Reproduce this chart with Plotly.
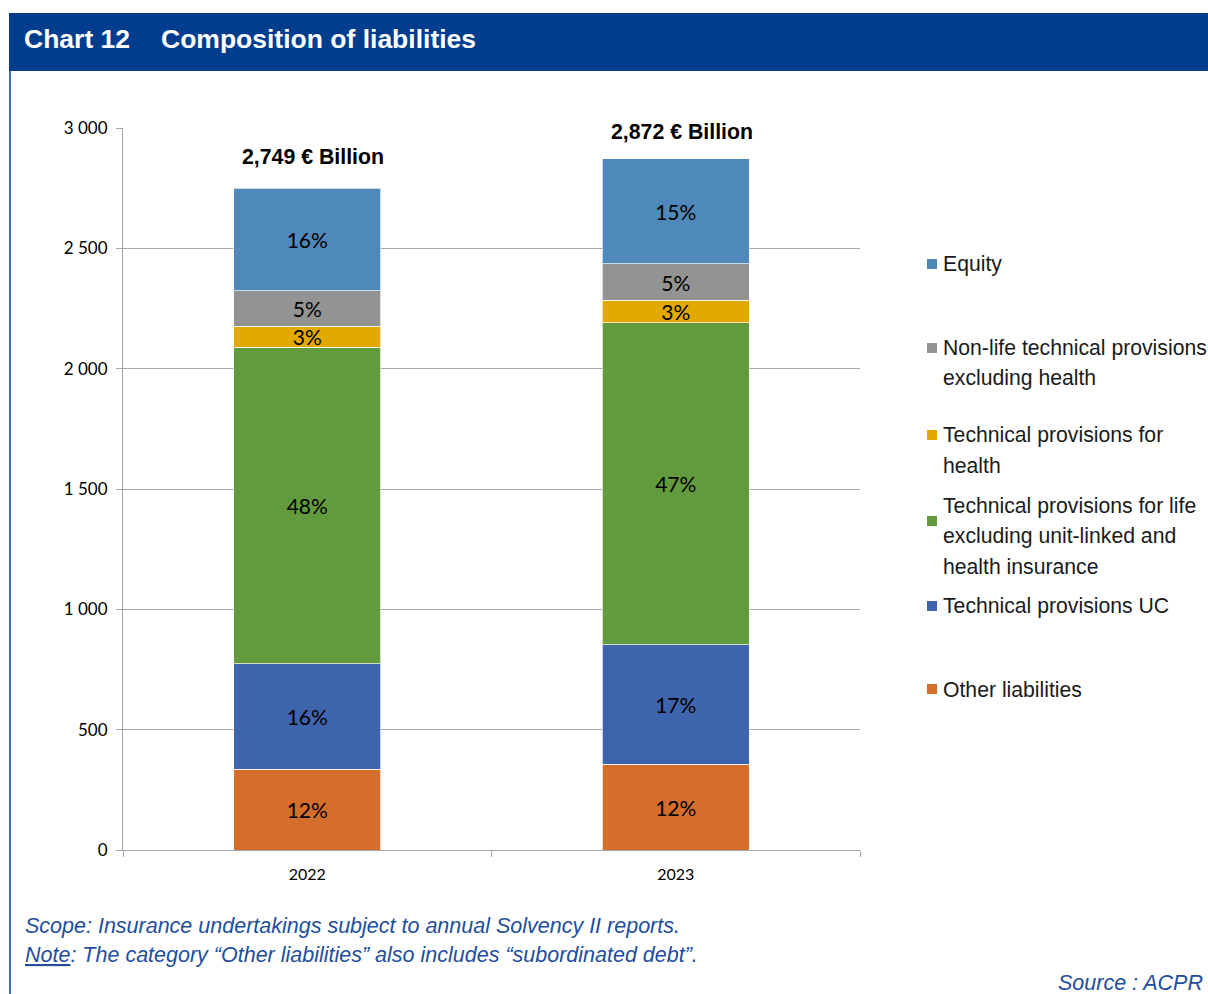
import plotly.graph_objects as go

# ---- data ----
years = ["2022", "2023"]
series_names = [
    "Other liabilities",
    "Technical provisions UC",
    "Technical provisions for life<br>excluding unit-linked and<br>health insurance",
    "Technical provisions for<br>health",
    "Non-life technical provisions<br>excluding health",
    "Equity",
]
other_liab = [336, 357]
tp_uc = [437, 495]
tp_life = [1317, 1338]
tp_health = [87, 95]
nonlife = [146, 150]
equity = [426, 437]
values = [other_liab, tp_uc, tp_life, tp_health, nonlife, equity]
pct_labels = [
    ["12%", "12%"],
    ["16%", "17%"],
    ["48%", "47%"],
    ["3%", "3%"],
    ["5%", "5%"],
    ["16%", "15%"],
]
totals = [2749, 2872]
y_ticks = [0, 500, 1000, 1500, 2000, 2500, 3000]

colors = ["#d56e2b", "#3d64ac", "#629b3d", "#e2a900", "#939393", "#4f89bc"]

W, H = 1208, 994
L, R, T, B = 123, 860, 128, 850


def px(x):
    return (x - L) / (R - L)


def py(y):
    return (B - y) / (B - T)


fig = go.Figure()
for name, vals, labs, col in zip(series_names, values, pct_labels, colors):
    fig.add_trace(go.Bar(
        x=years, y=vals, name=name, text=labs,
        textposition="inside", insidetextanchor="middle", textangle=0,
        textfont=dict(family="Lato, Carlito, sans-serif", size=21, color="#000000"),
        marker=dict(color=col, line=dict(color="rgba(255,255,255,0.7)", width=1)),
        showlegend=False, hoverinfo="skip", cliponaxis=False,
    ))

annotations = []
shapes = []

# totals above bars
shifts = [31, 27]
for i, (tot, sh) in enumerate(zip(totals, shifts)):
    annotations.append(dict(
        x=i, y=tot, xref="x", yref="y", text=f"<b>{tot:,} € Billion</b>",
        showarrow=False, yshift=sh, xshift=6, yanchor="middle",
        font=dict(family="Liberation Sans, Arial", size=21.3, color="#000000"),
        bgcolor="#ffffff", borderpad=3,
    ))

# custom legend (Equity at top)
legend_y = {5: 264, 4: 348, 3: 435, 2: 506, 1: 606, 0: 689}
marker_y = {5: 264, 4: 348, 3: 435, 2: 521, 1: 606, 0: 689}
line_gap = 30
for i, name in enumerate(series_names):
    lines = name.split("<br>")
    for k, ln in enumerate(lines):
        annotations.append(dict(
            x=px(941), y=py(legend_y[i] + k * line_gap), xref="paper", yref="paper",
            text=ln, showarrow=False, xanchor="left", yanchor="middle",
            font=dict(family="Liberation Sans, Arial", size=21.2, color="#1a1a1a"),
        ))
    my = marker_y[i]
    shapes.append(dict(
        type="rect", xref="paper", yref="paper",
        x0=px(927), x1=px(937), y0=py(my - 5), y1=py(my + 5),
        fillcolor=colors[i], line=dict(width=0),
    ))

# header band
shapes.append(dict(type="rect", xref="paper", yref="paper",
                   x0=px(9), x1=px(1210), y0=py(71), y1=py(13),
                   fillcolor="#003d8f", line=dict(width=0), layer="below"))
# left border line
shapes.append(dict(type="line", xref="paper", yref="paper",
                   x0=px(10), x1=px(10), y0=py(70), y1=py(996),
                   line=dict(color="#003d8f", width=1.5)))

head_font = dict(family="Liberation Sans, Arial", size=26.5, color="#ffffff")
annotations.append(dict(x=px(22), y=py(39), xref="paper", yref="paper",
                        text="<b>Chart 12</b>", showarrow=False,
                        xanchor="left", yanchor="middle", font=head_font))
annotations.append(dict(x=px(159), y=py(39), xref="paper", yref="paper",
                        text="<b>Composition of liabilities</b>", showarrow=False,
                        xanchor="left", yanchor="middle", font=head_font))

foot_font = dict(family="Liberation Sans, Arial", size=21.5, color="#1f4e9c")
annotations.append(dict(x=px(23), y=py(926), xref="paper", yref="paper",
                        text="<i>Scope: Insurance undertakings subject to annual Solvency II reports.</i>",
                        showarrow=False, xanchor="left", yanchor="middle", font=foot_font))
annotations.append(dict(x=px(23), y=py(955), xref="paper", yref="paper",
                        text="<i><u>Note</u>: The category “Other liabilities” also includes “subordinated debt”.</i>",
                        showarrow=False, xanchor="left", yanchor="middle", font=foot_font))
annotations.append(dict(x=px(1205), y=py(983), xref="paper", yref="paper",
                        text="<i>Source : ACPR</i>",
                        showarrow=False, xanchor="right", yanchor="middle", font=foot_font))

fig.update_layout(
    width=W, height=H,
    margin=dict(l=L, r=W - R, t=T, b=H - B, pad=0),
    barmode="stack", bargap=0.6,
    plot_bgcolor="#ffffff", paper_bgcolor="#ffffff",
    separators=", ",
    uniformtext=dict(minsize=21, mode="show"),
    annotations=annotations, shapes=shapes,
    xaxis=dict(
        type="category", range=[-0.5, 1.5], tickson="boundaries",
        ticks="outside", ticklen=6, tickcolor="#a6a6a6",
        showline=True, linecolor="#a6a6a6", linewidth=1,
        showgrid=False, ticklabelstandoff=10,
        tickfont=dict(family="Lato, Carlito, sans-serif", size=16, color="#000000"),
    ),
    yaxis=dict(
        range=[0, 3000], tickvals=y_ticks, tickformat=",d",
        ticks="outside", ticklen=6, tickcolor="#a6a6a6",
        showline=True, linecolor="#a6a6a6", linewidth=1,
        showgrid=True, gridcolor="#a6a6a6", gridwidth=1,
        zeroline=False, ticklabelstandoff=5,
        tickfont=dict(family="Lato, Carlito, sans-serif", size=17, color="#000000"),
    ),
)

fig.write_html("out.html")
